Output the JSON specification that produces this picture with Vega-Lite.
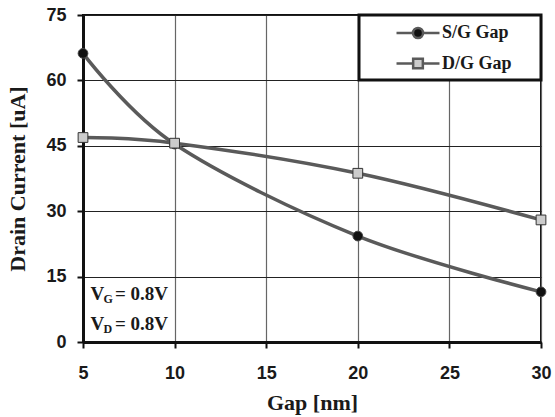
{
  "$schema": "https://vega.github.io/schema/vega-lite/v6.json",
  "width": 458,
  "height": 327,
  "autosize": "none",
  "padding": {"left": 83, "top": 15, "right": 14, "bottom": 75},
  "background": "white",
  "config": {
    "view": {"stroke": "#111", "strokeWidth": 2},
    "axis": {
      "domainColor": "#111", "domainWidth": 3,
      "tickColor": "#111", "tickWidth": 2, "tickSize": 6,
      "labelFont": "Liberation Sans", "labelFontWeight": "bold", "labelFontSize": 18, "labelColor": "#1a1a1a",
      "titleFont": "Liberation Serif", "titleFontWeight": "bold", "titleFontSize": 22, "titleColor": "#1a1a1a"
    }
  },
  "datasets": {
    "main": [
      {"gap": 5, "current": 66.2, "series": "S/G Gap"},
      {"gap": 10, "current": 45.4, "series": "S/G Gap"},
      {"gap": 20, "current": 24.3, "series": "S/G Gap"},
      {"gap": 30, "current": 11.5, "series": "S/G Gap"},
      {"gap": 5, "current": 46.9, "series": "D/G Gap"},
      {"gap": 10, "current": 45.6, "series": "D/G Gap"},
      {"gap": 20, "current": 38.7, "series": "D/G Gap"},
      {"gap": 30, "current": 28.0, "series": "D/G Gap"}
    ]
  },
  "layer": [
    {
      "data": {"name": "main"},
      "mark": {"type": "line", "interpolate": "cardinal", "tension": 0, "strokeWidth": 3.5},
      "encoding": {
        "x": {"field": "gap", "type": "quantitative",
          "scale": {"domain": [5, 30], "nice": false, "zero": false},
          "axis": {"values": [5, 10, 15, 20, 25, 30], "grid": true, "gridColor": "#666", "gridWidth": 1.2,
            "labelFlush": false, "labelPadding": 16, "title": "Gap [nm]", "titlePadding": 10}},
        "y": {"field": "current", "type": "quantitative",
          "scale": {"domain": [0, 75], "nice": false},
          "axis": {"values": [0, 15, 30, 45, 60, 75], "grid": true, "gridColor": "#222", "gridWidth": 1,
            "labelPadding": 11, "title": "Drain Current [uA]", "titlePadding": 16}},
        "stroke": {"field": "series", "type": "nominal",
          "scale": {"domain": ["S/G Gap", "D/G Gap"], "range": ["#5a5a5a", "#5a5a5a"]},
          "legend": {
            "title": null,
            "orient": "top-right", "offset": 0, "padding": 6,
            "fillColor": "white", "strokeColor": "#111",
            "symbolSize": 462, "symbolOffset": 41, "labelOffset": 12, "rowPadding": 7.5,
            "labelFont": "Liberation Serif", "labelFontWeight": "bold", "labelFontSize": 18, "labelColor": "#1a1a1a",
            "labelExpr": "datum.label + '\u00a0\u00a0\u00a0\u00a0\u00a0\u200b'",
            "encode": {
              "legend": {"update": {"strokeWidth": {"value": 3}}},
              "symbols": {"update": {
                "shape": {"signal": "datum.value === 'S/G Gap' ? 'M-2,0H-0.47M0.47,0H2M-0.47,0A0.47,0.47,0,1,0,0.47,0A0.47,0.47,0,1,0,-0.47,0Z' : 'M-2,0H-0.45M0.45,0H2M-0.45,-0.45H0.45V0.45H-0.45Z'"},
                "fill": {"signal": "datum.value === 'S/G Gap' ? '#111111' : '#cccccc'"},
                "stroke": {"value": "#555"},
                "strokeWidth": {"value": 2.5},
                "size": {"value": 462},
                "opacity": {"value": 1}
              }}
            }
          }}
      }
    },
    {
      "data": {"name": "main"},
      "transform": [{"filter": "datum.series === 'S/G Gap'"}],
      "mark": {"type": "point", "filled": true, "shape": "circle", "fill": "#111111", "size": 95, "stroke": "#444", "strokeWidth": 1, "opacity": 1},
      "encoding": {
        "x": {"field": "gap", "type": "quantitative"},
        "y": {"field": "current", "type": "quantitative"}
      }
    },
    {
      "data": {"name": "main"},
      "transform": [{"filter": "datum.series === 'D/G Gap'"}],
      "mark": {"type": "point", "filled": true, "shape": "square", "fill": "#cccccc", "size": 95, "stroke": "#333", "strokeWidth": 1, "opacity": 1},
      "encoding": {
        "x": {"field": "gap", "type": "quantitative"},
        "y": {"field": "current", "type": "quantitative"}
      }
    },
    {
      "data": {"values": [{}]},
      "mark": {"type": "text", "text": "V", "align": "left", "baseline": "alphabetic", "dx": 7.5, "font": "Liberation Serif", "fontWeight": "bold", "fontSize": 19, "fill": "#1a1a1a"},
      "encoding": {"x": {"datum": 5, "type": "quantitative"}, "y": {"datum": 9.6, "type": "quantitative"}}
    },
    {
      "data": {"values": [{}]},
      "mark": {"type": "text", "text": "G", "align": "left", "baseline": "alphabetic", "dx": 20.5, "dy": 3, "font": "Liberation Serif", "fontWeight": "bold", "fontSize": 12, "fill": "#1a1a1a"},
      "encoding": {"x": {"datum": 5, "type": "quantitative"}, "y": {"datum": 9.6, "type": "quantitative"}}
    },
    {
      "data": {"values": [{}]},
      "mark": {"type": "text", "text": "= 0.8V", "align": "left", "baseline": "alphabetic", "dx": 32, "font": "Liberation Serif", "fontWeight": "bold", "fontSize": 19, "fill": "#1a1a1a"},
      "encoding": {"x": {"datum": 5, "type": "quantitative"}, "y": {"datum": 9.6, "type": "quantitative"}}
    },
    {
      "data": {"values": [{}]},
      "mark": {"type": "text", "text": "V", "align": "left", "baseline": "alphabetic", "dx": 7.5, "font": "Liberation Serif", "fontWeight": "bold", "fontSize": 19, "fill": "#1a1a1a"},
      "encoding": {"x": {"datum": 5, "type": "quantitative"}, "y": {"datum": 2.7, "type": "quantitative"}}
    },
    {
      "data": {"values": [{}]},
      "mark": {"type": "text", "text": "D", "align": "left", "baseline": "alphabetic", "dx": 20.5, "dy": 3, "font": "Liberation Serif", "fontWeight": "bold", "fontSize": 12, "fill": "#1a1a1a"},
      "encoding": {"x": {"datum": 5, "type": "quantitative"}, "y": {"datum": 2.7, "type": "quantitative"}}
    },
    {
      "data": {"values": [{}]},
      "mark": {"type": "text", "text": "= 0.8V", "align": "left", "baseline": "alphabetic", "dx": 32, "font": "Liberation Serif", "fontWeight": "bold", "fontSize": 19, "fill": "#1a1a1a"},
      "encoding": {"x": {"datum": 5, "type": "quantitative"}, "y": {"datum": 2.7, "type": "quantitative"}}
    }
  ]
}
